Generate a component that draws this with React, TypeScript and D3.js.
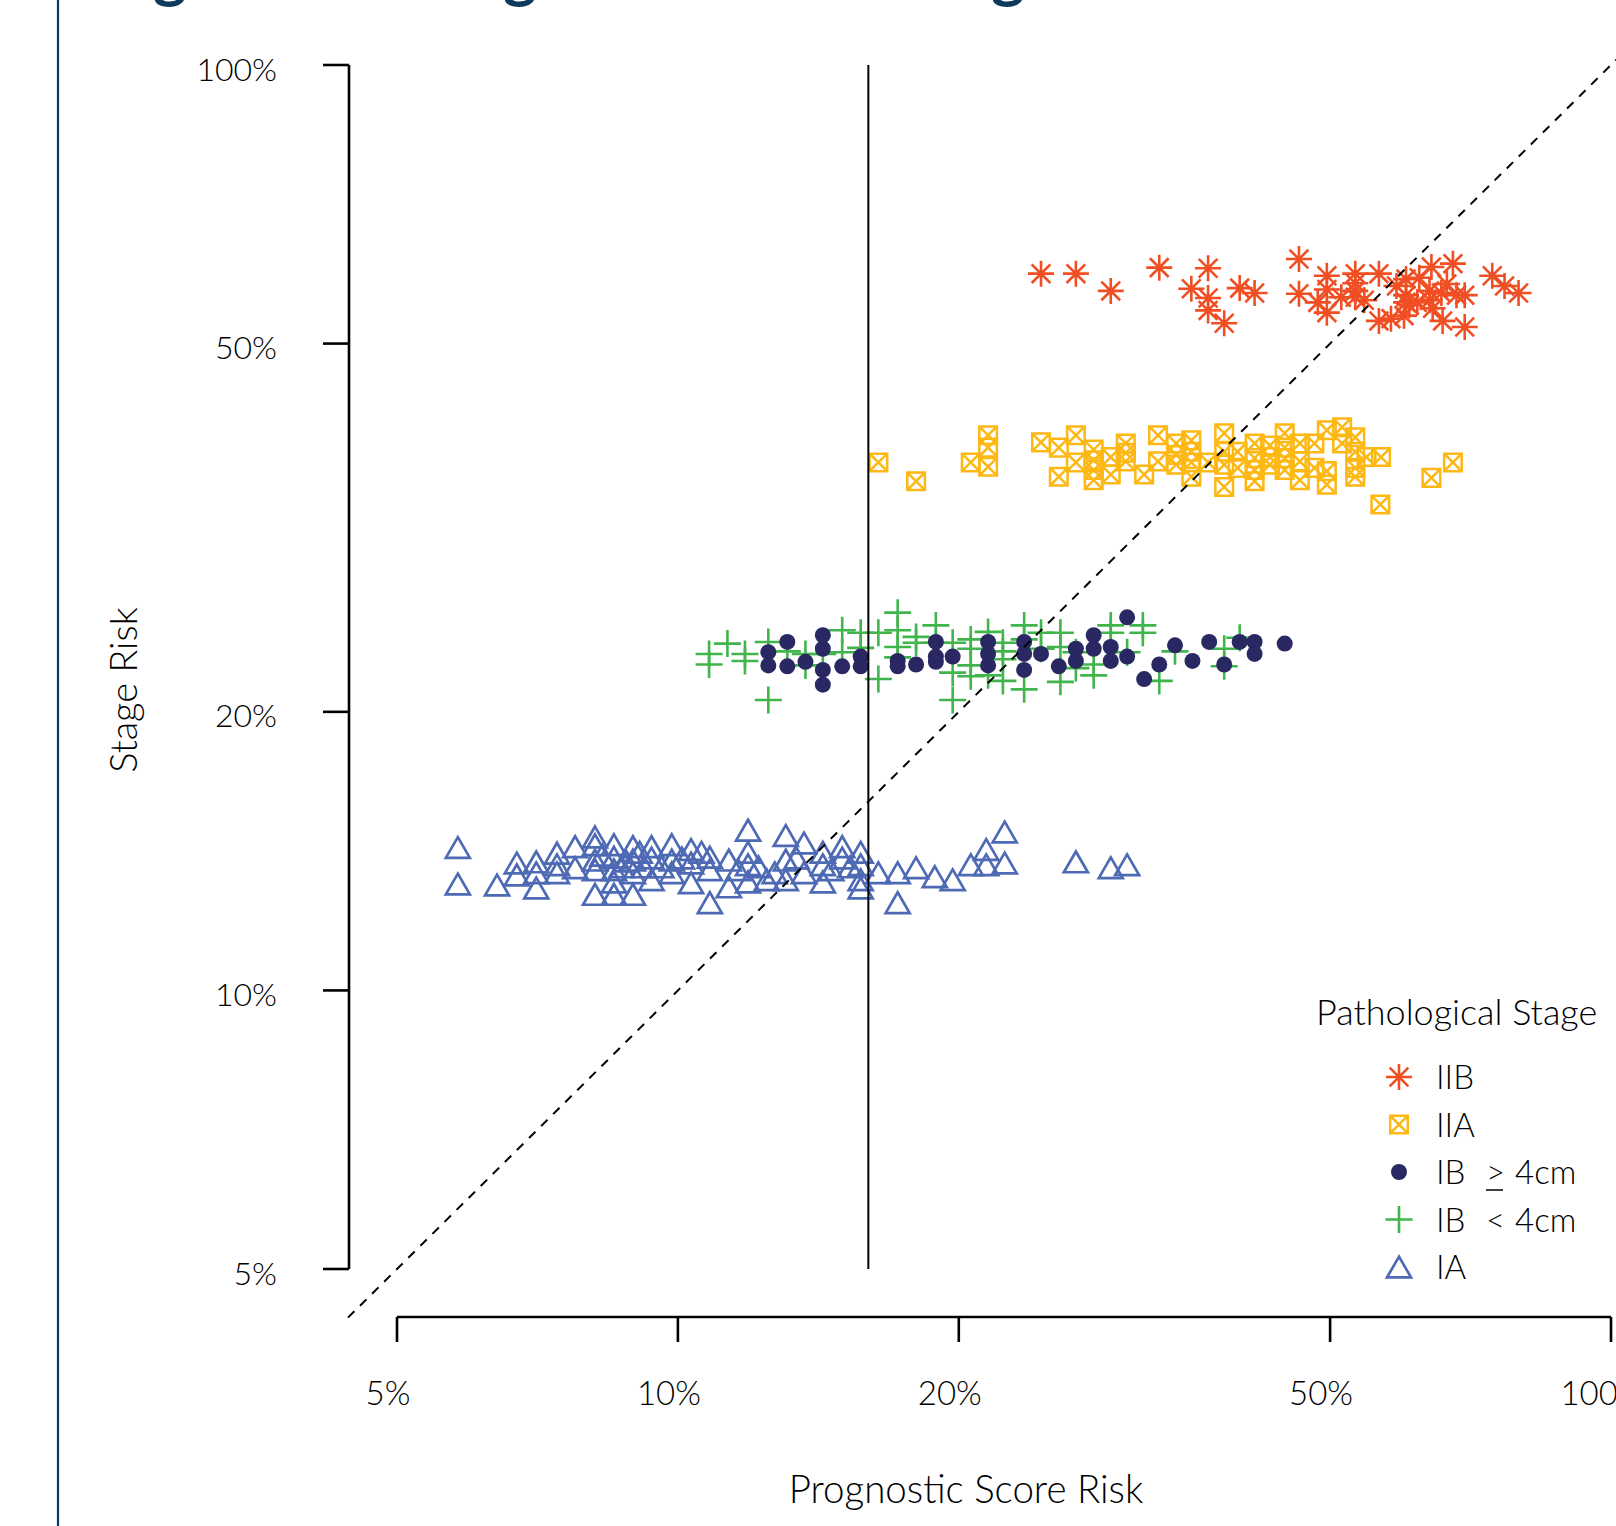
import React from "react";
import * as d3 from "d3";

// ---------- data (risk %, [prognostic score risk, stage risk]) ----------
const stageIIB: [number, number][] = [
  [24.5,59.5],[26.7,59.5],[29.1,57],[32.8,60.4],[37,60.3],[35.5,57.3],[37,56],[37,54.3],[38.5,52.6],[40,57.4],[41.5,56.7],
  [46.3,61.7],[46.3,56.6],[49.6,59.2],[49.6,57.2],[49.6,54],[51.4,56.1],[53.2,59.5],[53.2,58.1],[53.2,57],[53.2,56.1],
  [56.4,59.5],[56.4,52.9],[58.1,53.2],[58.9,57.7],[60.3,58.7],[60.3,56.4],[60,53.6],[62.3,58.9],[64.2,60.5],[67.7,61],
  [63.9,57],[63.9,55.7],[64.4,54.6],[65.8,56.7],[66,52.9],[68.3,56.4],[69.7,56.4],[69.7,52.1],[62,55.4],[60.8,55],
  [74.6,59.2],[76.9,57.7],[79.6,56.7],[66.7,58],[60.3,55.4],[48.5,55.4],[54.4,55.7]
];

const stageIIA: [number, number][] = [
  [16.4,37.2],[18,35.5],[21.5,39.8],[21.5,38.6],[20.6,37.2],[21.5,36.8],[24.5,39.1],[25.6,38.6],[26.7,39.8],[26.7,37.2],
  [25.6,35.9],[27.9,38.4],[27.9,37.4],[27.9,36.5],[27.9,35.6],[29.1,37.7],[29.1,36.1],[30.2,39],[30.2,38.1],[30.2,37.3],
  [31.6,36.1],[32.7,39.8],[32.7,37.3],[34.2,39],[34.2,37.9],[34.2,37],[35.5,39.3],[35.5,38.2],[35.5,37.2],[35.5,35.9],
  [37,37.2],[38.5,40],[38.5,38.2],[38.5,37],[38.5,35],[39.8,38.2],[39.8,36.7],[41.5,39],[41.5,37.6],[41.5,36.5],[41.5,35.5],
  [43.1,38.8],[43.1,37.7],[43.1,37],[44.7,40],[44.7,38.6],[44.7,37.6],[44.7,36.5],[46.4,39],[46.4,37.3],[46.4,35.6],
  [48.1,39],[48.1,36.7],[49.6,40.3],[49.6,36.4],[49.6,35.2],[51.5,40.6],[51.5,39],[53.2,39.6],[53.2,38.2],[53.2,36.7],
  [53.2,35.9],[54.7,37.7],[56.7,37.7],[56.6,33.5],[64.2,35.8],[67.7,37.2]
];

const stageIBLarge: [number, number][] = [
  [12.5,23.2],[12.5,22.45],[13.1,23.8],[13.1,22.4],[13.7,22.65],[14.3,24.2],[14.3,23.4],[14.3,22.2],[14.3,21.4],[15,22.4],
  [15.7,22.95],[15.7,22.4],[17.2,22.7],[17.2,22.4],[18,22.5],[18.9,23.8],[18.9,22.95],[18.9,22.65],[19.7,22.95],[21.5,23.8],
  [21.5,23.1],[21.5,22.45],[23.5,23.8],[23.5,23.1],[23.5,22.2],[24.5,23.1],[25.6,22.4],[26.7,23.4],[26.7,22.7],[27.9,24.2],
  [27.9,23.4],[29.1,23.5],[29.1,22.7],[30.3,25.3],[30.3,22.95],[31.6,21.7],[32.8,22.5],[34.1,23.6],[35.6,22.7],[37.1,23.8],
  [38.5,22.5],[40,23.8],[41.5,23.8],[41.5,23.1],[44.7,23.7]
];

const stageIBSmall: [number, number][] = [
  [10.8,23.1],[10.8,22.5],[11.3,23.7],[11.8,23.1],[11.8,22.7],[12.5,23.8],[12.5,20.6],[13.1,23.25],[13.7,23.1],[13.7,22.45],
  [14.3,23.1],[15,24.5],[15,23.2],[15.7,24.35],[15.7,23.45],[16.4,24.35],[16.4,21.7],[17.2,25.6],[17.2,24.5],[17.2,23.5],
  [17.2,22.9],[18,24.1],[18,23.75],[18.9,24.8],[18.9,23.75],[19.7,23.75],[19.7,20.6],[19.7,22.05],[20.6,23.95],[20.6,23.4],
  [20.6,22.45],[20.6,21.85],[21.5,24.4],[21.5,21.9],[22.3,23.75],[22.3,23.25],[22.3,22.8],[22.3,21.6],[23.5,24.8],[23.5,23.95],
  [23.5,21.15],[24.5,24.35],[24.5,23.4],[25.7,24.35],[25.7,23.5],[25.7,21.55],[26.7,23.2],[26.7,22.3],[27.9,22.5],[27.9,21.9],
  [29.1,24.8],[29.1,24.35],[30.3,23.2],[31.5,24.8],[31.5,24.35],[32.8,21.6],[34.1,23.25],[38.5,23.4],[38.5,22.4],[40,24.05]
];

const stageIA: [number, number][] = [
  [5.81,14.27],[5.81,13.03],[6.4,13],[6.72,13.73],[6.72,13.33],[7.05,13.77],[7.05,13.4],[7.05,12.9],[7.42,14.07],[7.42,13.67],
  [7.42,13.4],[7.76,14.3],[7.76,13.57],[8.15,14.65],[8.15,14.37],[8.15,13.83],[8.15,13.5],[8.15,12.7],[8.54,14.37],[8.54,13.93],
  [8.54,13.5],[8.54,13.1],[8.54,12.7],[8.95,14.3],[8.95,13.83],[8.95,13.4],[8.95,12.7],[9.37,14.3],[9.37,13.9],[9.37,13.17],
  [9.85,14.37],[9.85,13.83],[9.85,13.4],[10.33,14.2],[10.33,13.73],[10.33,13.07],[10.82,13.93],[10.82,13.5],[10.82,12.44],
  [11.34,13.83],[11.34,12.94],[11.89,14.9],[11.89,14.1],[11.89,13.67],[11.89,13.1],[12.45,13.17],[13.05,14.7],[13.05,13.83],
  [13.05,13.17],[13.65,14.43],[13.65,13.4],[14.3,14.1],[14.3,13.67],[14.3,13.1],[15,14.3],[15,13.9],[15.7,14.1],[15.7,13.67],
  [15.7,13.17],[15.7,12.9],[16.4,13.4],[17.2,13.4],[17.2,12.44],[18,13.57],[18.85,13.27],[19.7,13.17],[20.6,13.67],[21.4,14.2],
  [21.4,13.67],[22.4,14.83],[22.4,13.73],[26.7,13.77],[29.1,13.57],[30.3,13.67],
  [8.3,14.0],[8.7,13.6],[9.1,14.1],[9.6,13.6],[10.1,13.9],[9.2,13.6],[8.8,13.8],[10.6,14.1],[11.6,13.5],[12.2,13.6],[12.7,13.4],
  [14.6,13.5],[13.4,13.9],[15.3,13.6]
];

const xTicks = [5, 10, 20, 50, 100];
const yTicks = [5, 10, 20, 50, 100];
const tickLabel = (v: number) => `${v}%`;
const cutoffX = 16;
const identityRange = [4.43, 103];

const COLORS = {
  IIB: "#F04E23",
  IIA: "#FDB813",
  IBL: "#2A2862",
  IBS: "#40B54B",
  IA: "#4E6AB4",
};

const FONT = "Lato, 'Open Sans', sans-serif";
const INK = "#000";

// ---------- marker shapes ----------
function Marker({ kind, x, y }: { kind: string; x: number; y: number }) {
  const t = `translate(${x},${y})`;
  if (kind === "IIB") {
    const r = 13, d = r * 0.72;
    return (
      <path transform={t} d={`M${-r},0L${r},0M0,${-r}L0,${r}M${-d},${-d}L${d},${d}M${-d},${d}L${d},${-d}`}
        stroke={COLORS.IIB} strokeWidth={2.6} fill="none" />
    );
  }
  if (kind === "IIA") {
    const h = 8.8;
    return (
      <path transform={t} d={`M${-h},${-h}H${h}V${h}H${-h}ZM${-h},${-h}L${h},${h}M${-h},${h}L${h},${-h}`}
        stroke={COLORS.IIA} strokeWidth={2.5} fill="none" />
    );
  }
  if (kind === "IBL") {
    return <circle transform={t} r={8} fill={COLORS.IBL} />;
  }
  if (kind === "IBS") {
    const r = 13.5;
    return (
      <path transform={t} d={`M${-r},0L${r},0M0,${-r}L0,${r}`} stroke={COLORS.IBS} strokeWidth={2.6} fill="none" />
    );
  }
  const s = 24, hh = s * 0.866;
  return (
    <path transform={t} d={`M0,${-hh / 2}L${s / 2},${hh / 2}L${-s / 2},${hh / 2}Z`}
      stroke={COLORS.IA} strokeWidth={2.7} fill="none" strokeLinejoin="miter" />
  );
}

export default function App() {
  const W = 1616, H = 1526;
  const x = d3.scaleLog().domain([5, 100]).range([397, 1611]);
  const y = d3.scaleLog().domain([5, 100]).range([1269, 65]);

  const series: { kind: string; data: [number, number][] }[] = [
    { kind: "IA", data: stageIA },
    { kind: "IBS", data: stageIBSmall },
    { kind: "IBL", data: stageIBLarge },
    { kind: "IIA", data: stageIIA },
    { kind: "IIB", data: stageIIB },
  ];

  const identity = d3.line<number>().x((v) => x(v)).y((v) => y(v));

  const xAxisY = 1317;
  const yAxisX = 349;

  const legendItems = [
    { kind: "IIB", label: ["IIB"] },
    { kind: "IIA", label: ["IIA"] },
    { kind: "IBL", label: ["IB", ">", "4cm"] },
    { kind: "IBS", label: ["IB", "<", "4cm"] },
    { kind: "IA", label: ["IA"] },
  ];

  return (
    <svg width={W} height={H} viewBox={`0 0 ${W} ${H}`}
      style={{ position: "absolute", left: 0, top: 0, background: "#fff" }}
      fontFamily={FONT}>
      <rect width={W} height={H} fill="#fff" />
      {/* cropped title descenders and side rule */}
      <line x1={58} y1={0} x2={58} y2={H} stroke="#0E3A5E" strokeWidth={2.2} />
      {[170, 520, 1008].map((gx, i) => (
        <text key={i} x={gx} y={-4} fontSize={64} fontWeight={700} fill="#0E3A5E" textAnchor="middle">g</text>
      ))}

      {/* points */}
      {series.map((s) => (
        <g key={s.kind}>
          {s.data.map((p, i) => (
            <Marker key={i} kind={s.kind} x={x(p[0])} y={y(p[1])} />
          ))}
        </g>
      ))}

      {/* reference lines */}
      <path d={identity(identityRange) || ""} stroke="#000" strokeWidth={2} strokeDasharray="9,8" fill="none" />
      <line x1={x(cutoffX)} x2={x(cutoffX)} y1={y(100)} y2={y(5)} stroke="#000" strokeWidth={2} />

      {/* y axis */}
      <g stroke="#000" strokeWidth={2.6} fill="none">
        <line x1={yAxisX} x2={yAxisX} y1={y(100)} y2={y(5)} />
        {yTicks.map((t) => (
          <line key={t} x1={yAxisX - 26} x2={yAxisX} y1={y(t)} y2={y(t)} />
        ))}
      </g>
      {yTicks.map((t) => (
        <text key={t} x={277} y={y(t) + 4} dy="0.36em" textAnchor="end" fontSize={32} fontWeight={300} fill={INK}>
          {tickLabel(t)}
        </text>
      ))}

      {/* x axis */}
      <g stroke="#000" strokeWidth={2.6} fill="none">
        <line x1={x(5)} x2={x(100)} y1={xAxisY} y2={xAxisY} />
        {xTicks.map((t) => (
          <line key={t} x1={x(t)} x2={x(t)} y1={xAxisY} y2={xAxisY + 25} />
        ))}
      </g>
      {xTicks.map((t) => (
        <text key={t} x={x(t) - 9} y={1405} textAnchor="middle" fontSize={33} fontWeight={300} fill={INK}>
          {tickLabel(t)}
        </text>
      ))}

      {/* axis titles */}
      <text x={966} y={1503} textAnchor="middle" fontSize={38.5} fontWeight={300} fill={INK}>Prognostic Score Risk</text>
      <text transform="translate(137,690) rotate(-90)" textAnchor="middle" fontSize={38} fontWeight={300} fill={INK}>Stage Risk</text>

      {/* legend */}
      <text x={1316} y={1025} fontSize={36} fontWeight={300} fill={INK}>Pathological Stage</text>
      {legendItems.map((it, i) => {
        const cy = 1077 + i * 47.5;
        return (
          <g key={it.kind}>
            <Marker kind={it.kind} x={1399} y={cy} />
            <text x={1436} y={cy + 12} fontSize={33} fontWeight={300} fill={INK}>{it.label[0]}</text>
            {it.label.length > 1 && (
              <>
                <text x={1486} y={cy + 12} fontSize={33} fontWeight={300} fill={INK}>{it.label[1]}</text>
                <text x={1515} y={cy + 12} fontSize={33} fontWeight={300} fill={INK}>{it.label[2]}</text>
              </>
            )}
            {it.label[1] === ">" && (
              <line x1={1486} x2={1503} y1={cy + 18} y2={cy + 18} stroke={INK} strokeWidth={1.5} />
            )}
          </g>
        );
      })}
    </svg>
  );
}
